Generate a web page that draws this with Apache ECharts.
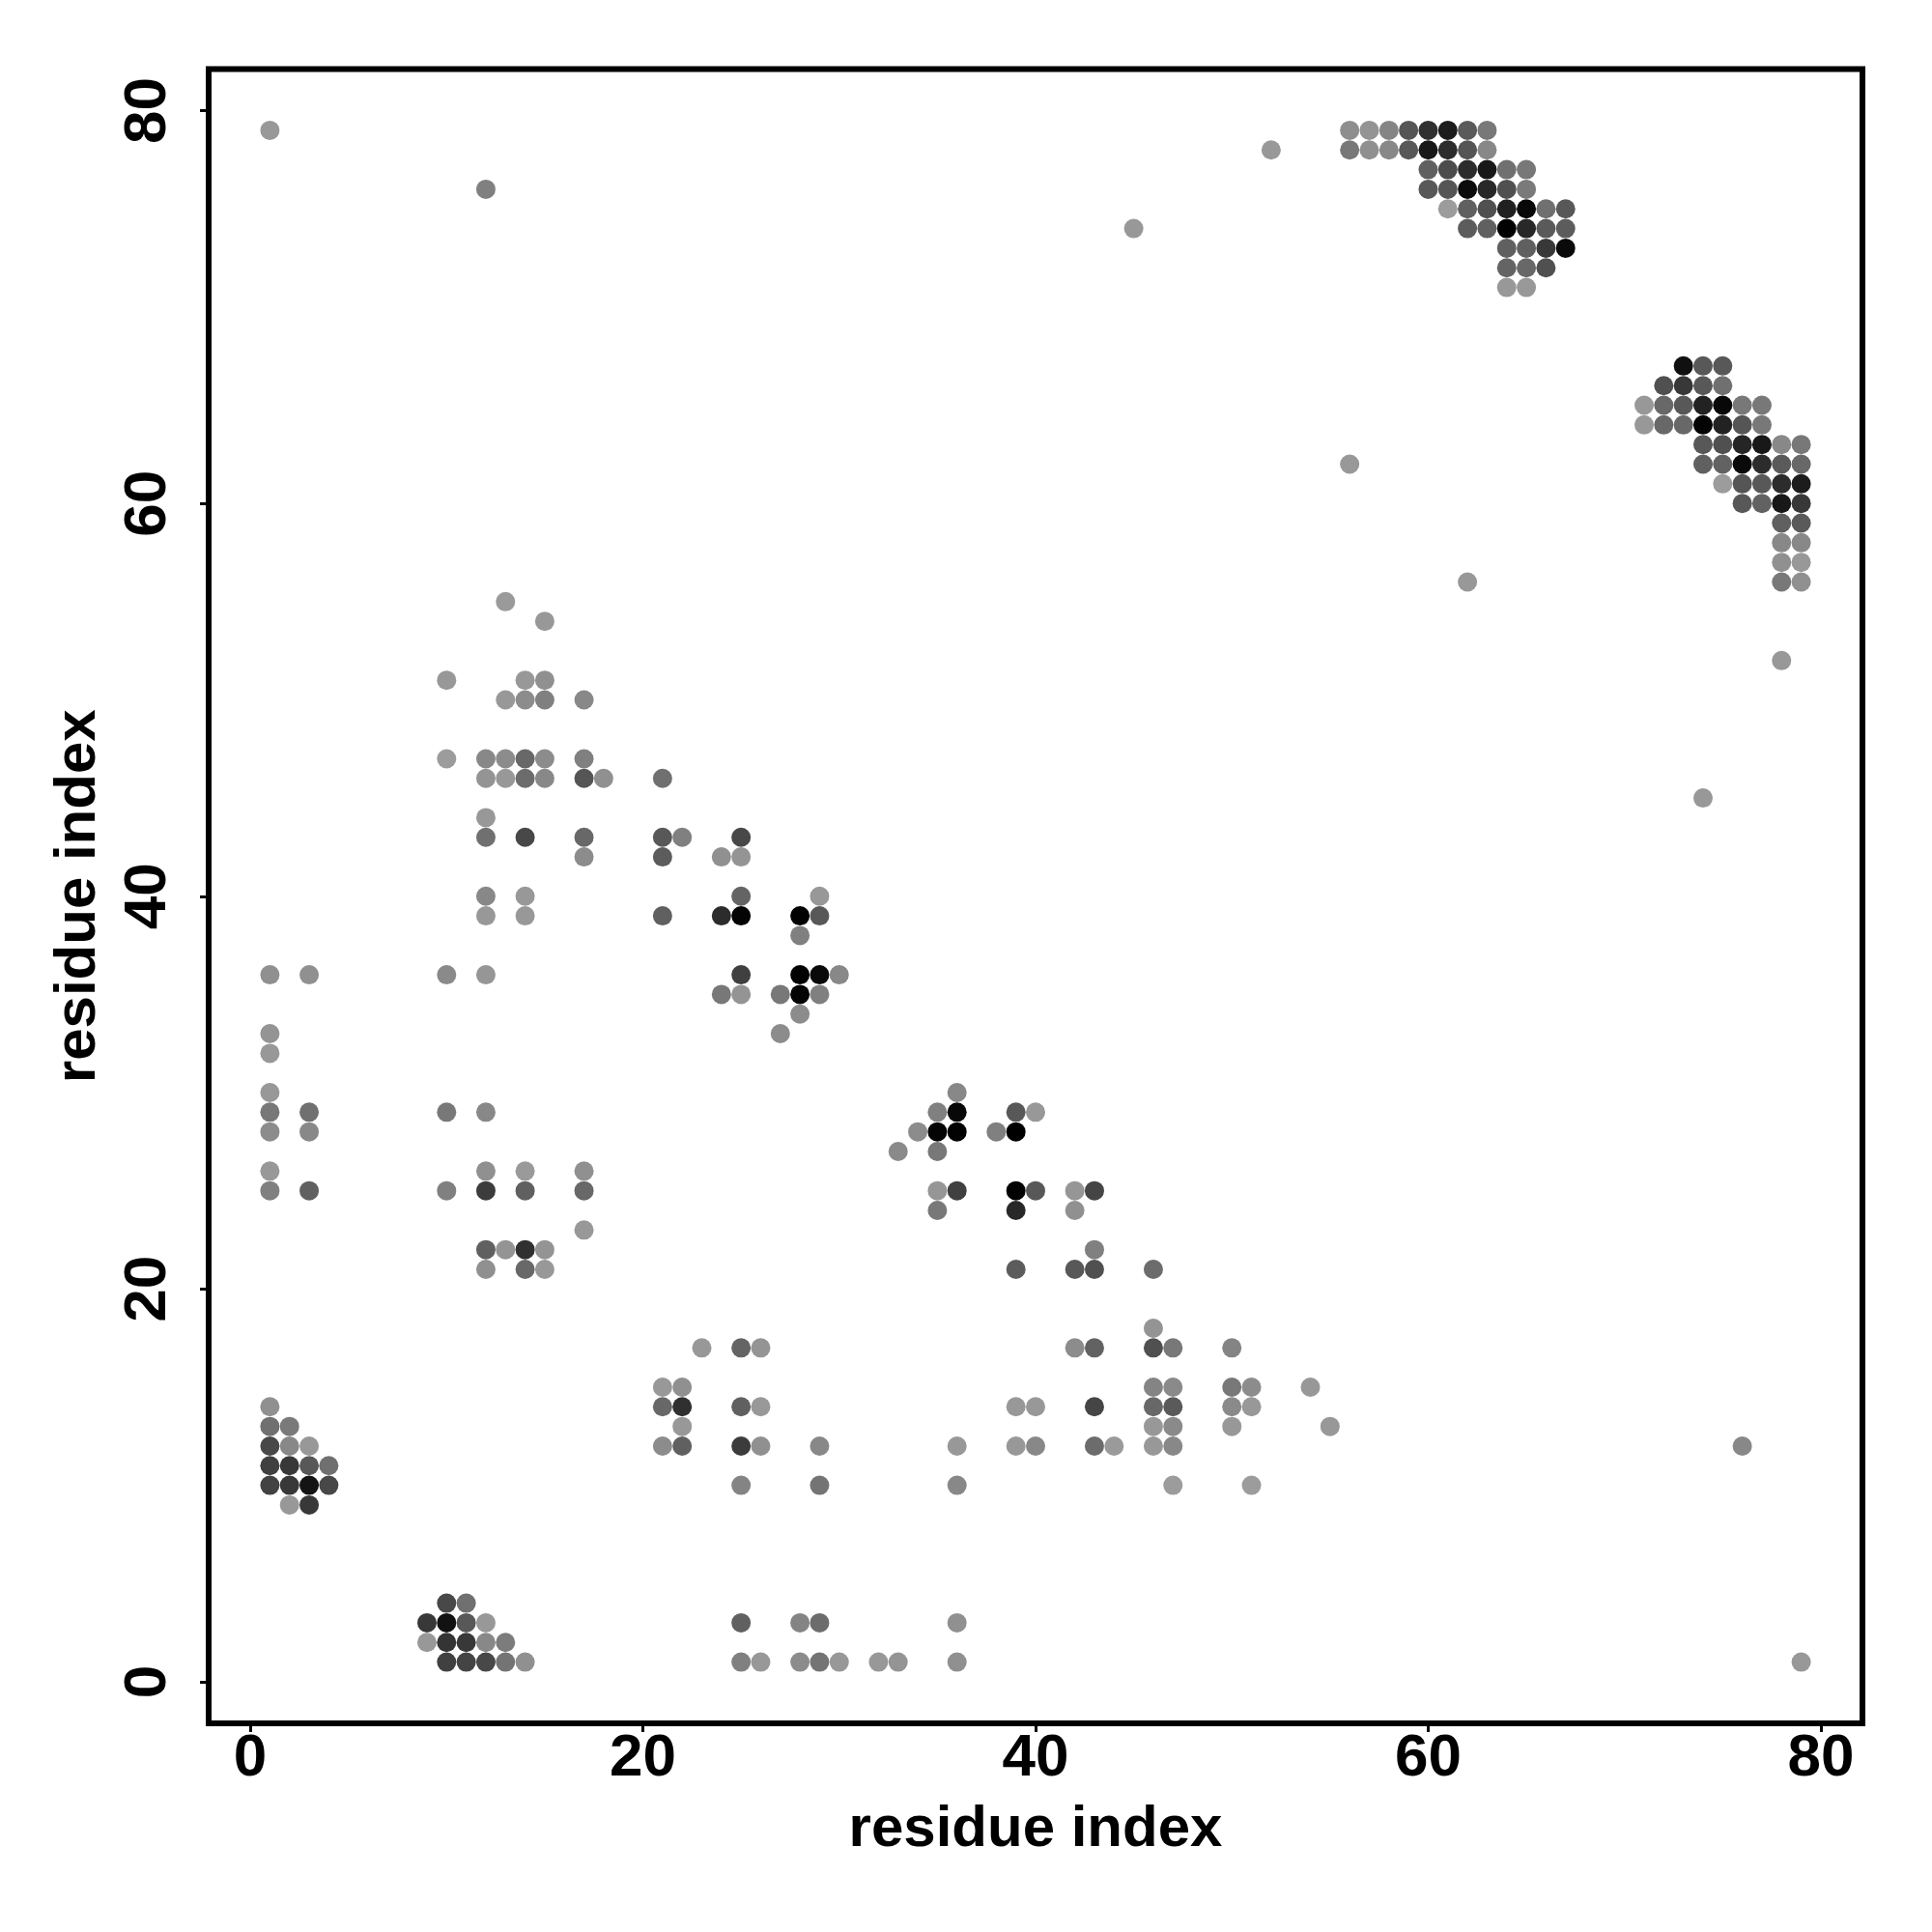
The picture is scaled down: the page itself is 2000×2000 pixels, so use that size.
<!DOCTYPE html>
<html>
<head>
<meta charset="utf-8">
<style>html,body{margin:0;padding:0;background:#fff}#c{width:2000px;height:2000px}</style>
<script src="https://cdn.jsdelivr.net/npm/echarts@6/dist/echarts.min.js"></script>
</head>
<body>
<div id="c"></div>
<script>
const tickValues = [0, 20, 40, 60, 80];
const axisTitle = 'residue index';
// each entry: [residue index on x, grey level of the dot]
const row79 = [[1,152],[56,142],[57,148],[58,133],[59,85],[60,48],[61,28],[62,90],[63,120]];
const row78 = [[52,152],[56,120],[57,144],[58,136],[59,88],[60,24],[61,44],[62,85],[63,136]];
const row77 = [[60,96],[61,76],[62,44],[63,24],[64,112],[65,120]];
const row76 = [[12,128],[60,88],[61,85],[62,12],[63,40],[64,80],[65,122]];
const row75 = [[61,156],[62,96],[63,80],[64,32],[65,8],[66,112],[67,88]];
const row74 = [[45,152],[62,92],[63,96],[64,2],[65,40],[66,90],[67,92]];
const row73 = [[64,96],[65,96],[66,56],[67,10]];
const row72 = [[64,100],[65,104],[66,80]];
const row71 = [[64,152],[65,152]];
const row67 = [[73,16],[74,88],[75,88]];
const row66 = [[72,80],[73,56],[74,88],[75,112]];
const row65 = [[71,152],[72,104],[73,88],[74,34],[75,8],[76,120],[77,120]];
const row64 = [[71,152],[72,104],[73,104],[74,4],[75,34],[76,85],[77,120]];
const row63 = [[74,88],[75,80],[76,37],[77,24],[78,136],[79,120]];
const row62 = [[56,152],[74,96],[75,98],[76,10],[77,44],[78,90],[79,104]];
const row61 = [[75,156],[76,85],[77,88],[78,44],[79,28]];
const row60 = [[76,88],[77,98],[78,24],[79,56]];
const row59 = [[78,96],[79,90]];
const row58 = [[78,136],[79,136]];
const row57 = [[78,144],[79,152]];
const row56 = [[62,152],[78,120],[79,144]];
const row55 = [[13,154]];
const row54 = [[15,152]];
const row52 = [[78,152]];
const row51 = [[10,152],[14,152],[15,144]];
const row50 = [[13,152],[14,140],[15,128],[17,136]];
const row47 = [[10,156],[12,136],[13,140],[14,104],[15,140],[17,128]];
const row46 = [[12,148],[13,152],[14,108],[15,136],[17,85],[18,144],[21,112]];
const row45 = [[74,152]];
const row44 = [[12,152]];
const row43 = [[12,112],[14,72],[17,104],[21,88],[22,128],[25,72]];
const row42 = [[17,140],[21,92],[24,144],[25,148]];
const row40 = [[12,136],[14,152],[25,100],[29,152]];
const row39 = [[12,152],[14,152],[21,96],[24,44],[25,4],[28,2],[29,88]];
const row38 = [[28,128]];
const row36 = [[1,144],[3,144],[10,138],[12,150],[25,64],[28,2],[29,10],[30,136]];
const row35 = [[24,120],[25,148],[27,120],[28,4],[29,128]];
const row34 = [[28,140]];
const row33 = [[1,148],[27,140]];
const row32 = [[1,152]];
const row30 = [[1,152],[36,136]];
const row29 = [[1,120],[3,112],[10,120],[12,136],[35,128],[36,8],[39,88],[40,152]];
const row28 = [[1,140],[3,136],[34,140],[35,4],[36,2],[38,128],[39,0]];
const row27 = [[33,138],[35,120]];
const row26 = [[1,152],[12,144],[14,154],[17,144]];
const row25 = [[1,128],[3,96],[10,128],[12,60],[14,96],[17,104],[35,150],[36,64],[39,2],[40,88],[42,150],[43,69]];
const row24 = [[35,120],[39,40],[42,144]];
const row23 = [[17,152]];
const row22 = [[12,96],[13,148],[14,48],[15,148],[43,128]];
const row21 = [[12,144],[14,104],[15,152],[39,92],[42,88],[43,80],[46,108]];
const row18 = [[46,148]];
const row17 = [[23,152],[25,100],[26,148],[42,140],[43,98],[46,80],[47,120],[50,132]];
const row15 = [[21,152],[22,144],[46,132],[47,138],[50,120],[51,140],[54,152]];
const row14 = [[1,144],[21,104],[22,48],[25,96],[26,152],[39,152],[40,152],[43,69],[46,104],[47,90],[50,138],[51,152]];
const row13 = [[1,112],[2,122],[22,152],[46,152],[47,138],[50,152],[55,152]];
const row12 = [[1,72],[2,136],[3,152],[21,140],[22,96],[25,60],[26,144],[29,136],[36,152],[39,152],[40,136],[43,108],[44,154],[46,152],[47,136],[76,136]];
const row11 = [[1,64],[2,56],[3,88],[4,112]];
const row10 = [[1,66],[2,56],[3,20],[4,72],[25,132],[29,116],[36,136],[47,156],[51,156]];
const row9 = [[2,152],[3,56]];
const row4 = [[10,72],[11,112]];
const row3 = [[9,56],[10,18],[11,88],[12,152],[25,96],[28,132],[29,108],[36,144]];
const row2 = [[9,152],[10,52],[11,56],[12,136],[13,124]];
const row1 = [[10,64],[11,68],[12,72],[13,116],[14,144],[25,128],[26,152],[28,140],[29,116],[30,152],[32,152],[33,148],[36,144],[79,152]];

const rows = [[79,row79],[78,row78],[77,row77],[76,row76],[75,row75],[74,row74],[73,row73],[72,row72],[71,row71],
  [67,row67],[66,row66],[65,row65],[64,row64],[63,row63],[62,row62],[61,row61],[60,row60],[59,row59],[58,row58],[57,row57],[56,row56],
  [55,row55],[54,row54],[52,row52],[51,row51],[50,row50],[47,row47],[46,row46],[45,row45],[44,row44],[43,row43],[42,row42],
  [40,row40],[39,row39],[38,row38],[36,row36],[35,row35],[34,row34],[33,row33],[32,row32],[30,row30],[29,row29],[28,row28],[27,row27],
  [26,row26],[25,row25],[24,row24],[23,row23],[22,row22],[21,row21],[18,row18],[17,row17],[15,row15],[14,row14],[13,row13],[12,row12],
  [11,row11],[10,row10],[9,row9],[4,row4],[3,row3],[2,row2],[1,row1]];

const points = [];
rows.forEach(function (r) { r[1].forEach(function (p) { points.push([p[0], r[0], p[1]]); }); });

const font = '"Liberation Sans", Arimo, Helvetica, Arial, sans-serif';
function axis(extra) {
  return Object.assign({
    type: 'value', min: -2.12, max: 82.12,
    name: axisTitle, nameLocation: 'middle',
    nameTextStyle: { color: '#000', fontFamily: font, fontWeight: 'bold', fontSize: 60 },
    axisLine: { show: false, onZero: false },
    axisTick: { show: true, length: 9, customValues: tickValues, lineStyle: { color: '#000', width: 3 } },
    splitLine: { show: false }
  }, extra);
}
const labelBase = { show: true, color: '#000', fontFamily: font, fontWeight: 'bold', fontSize: 62, customValues: tickValues };

const chart = echarts.init(document.getElementById('c'), null, { renderer: 'canvas' });
chart.setOption({
  animation: false,
  backgroundColor: '#fff',
  grid: { show: true, left: 216, right: 72, top: 71.5, bottom: 216, borderColor: '#000', borderWidth: 6, backgroundColor: 'transparent' },
  xAxis: axis({ nameGap: 80, axisLabel: Object.assign({ margin: 6 }, labelBase) }),
  yAxis: axis({ nameGap: 105, axisLabel: Object.assign({ margin: 31, rotate: 90 }, labelBase) }),
  series: [{
    type: 'scatter',
    data: points,
    symbol: 'circle',
    symbolSize: 20,
    itemStyle: {
      opacity: 1,
      color: function (p) { var g = p.value[2]; return 'rgb(' + g + ',' + g + ',' + g + ')'; }
    }
  }]
});
</script>
</body>
</html>
